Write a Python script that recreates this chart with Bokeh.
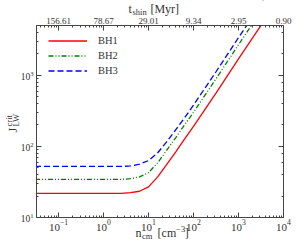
from bokeh.plotting import figure
from bokeh.models import Range1d, LinearAxis, LogAxis, FixedTicker, LogTicker, Label
from bokeh.embed import file_html
from bokeh.resources import INLINE
import math

# ---- data ----
n_cm = [0.03, 0.1, 1.0, 2.5, 4.0, 6.3, 10.0, 16.0, 25.0, 40.0, 63.0, 100.0, 316.0, 1000.0, 3162.0, 6300.0]
J_bh1 = [21.8, 21.8, 21.8, 21.9, 22.4, 23.4, 26.9, 37.2, 55.0, 83.2, 126.0, 191.0, 562.0, 1700.0, 5010.0, 9770.0]
J_bh2 = [34.3, 34.3, 34.3, 34.4, 35.1, 37.2, 42.7, 58.9, 87.1, 132.0, 200.0, 302.0, 891.0, 2690.0, 7940.0, 15500.0]
J_bh3 = [52.2, 52.2, 52.2, 52.2, 53.1, 56.2, 63.1, 81.3, 115.0, 170.0, 251.0, 380.0, 1120.0, 3390.0, 10000.0, 19500.0]
series_names = ["BH1", "BH2", "BH3"]
top_tick_pos = [0.1, 1.0, 10.0, 100.0, 1000.0, 10000.0]
top_tick_labels = ["156.61", "78.67", "29.01", "9.34", "2.95", "0.90"]

# visible axes box (data limits) and full canvas extents
X0, X1 = 0.0324, 10000.0
Y0, Y1 = 10.0, 5000.0
XA, XB = 0.00513, 19450.0
YA, YB = 3.548, 11250.0

FONT = "Liberation Serif"
TXT = "#333333"
AX = "#444444"

p = figure(width=296, height=249, x_axis_type="log", y_axis_type="log",
           x_range=Range1d(XA, XB), y_range=Range1d(YA, YB),
           output_backend="svg", toolbar_location=None,
           min_border_left=0, min_border_right=0, min_border_top=0, min_border_bottom=0)
p.xgrid.visible = False
p.ygrid.visible = False
p.outline_line_color = None
p.background_fill_color = "white"
p.border_fill_color = "white"

styles = [dict(color="#ff0000", line_dash="solid"),
          dict(color="#008000", line_dash="5 2 1 2 1 2"),
          dict(color="#0000ff", line_dash="6 3")]
for J, name, st in zip([J_bh1, J_bh2, J_bh3], series_names, styles):
    p.line(n_cm, J, line_color=st["color"], line_dash=st["line_dash"], line_width=1.3, legend_label=name)

# white masks outside the axes box (curves are clipped at the box edges)
p.quad(left=[XA], right=[XB], bottom=[Y1], top=[YB], fill_color="white", line_color=None)
p.quad(left=[XA], right=[X0], bottom=[YA], top=[YB], fill_color="white", line_color=None)

# axes drawn at the box edges
p.xaxis.fixed_location = Y0
p.xaxis.bounds = (X0, X1)
p.yaxis.fixed_location = X0
p.yaxis.bounds = (Y0, Y1)

minors = [m * 10.0 ** k for k in range(-2, 4) for m in range(2, 10)]
minors = [v for v in minors if X0 <= v <= X1]
top = LinearAxis(ticker=FixedTicker(ticks=top_tick_pos, minor_ticks=minors),
                 major_label_overrides={t: l for t, l in zip(top_tick_pos, top_tick_labels)},
                 fixed_location=Y1, bounds=(X0, X1))
p.add_layout(top, "above")
right = LogAxis(ticker=LogTicker(), fixed_location=X1, bounds=(Y0, Y1))
p.add_layout(right, "right")

for ax in p.axis:
    ax.major_tick_in = 5
    ax.major_tick_out = 0
    ax.minor_tick_in = 2
    ax.minor_tick_out = 0
    ax.axis_line_color = AX
    ax.major_tick_line_color = AX
    ax.minor_tick_line_color = AX
    ax.major_label_text_font = FONT
    ax.major_label_text_color = TXT
    ax.major_label_standoff = 3
    ax.axis_label = None
p.xaxis[0].major_label_text_font_size = "9.5px"
p.yaxis[0].major_label_text_font_size = "9.5px"
top.major_label_text_font_size = "9px"
top.major_label_standoff = 2
right.major_label_text_font_size = "1px"
right.major_label_text_alpha = 0.0
right.major_label_standoff = 0

# ---- composed axis titles ----
def lab(x, y, t, size, angle=0.0):
    p.add_layout(Label(x=x, y=y, text=t, text_font=FONT, text_font_size=size,
                       text_color=TXT, angle=angle, text_align="left", text_baseline="middle"))

# top: t_shin [Myr]
lab(3.58, 8410, "t", "12px")
lab(4.40, 7640, "shin", "8.5px")
lab(11.0, 8410, "[Myr]", "12px")
# bottom: n_cm [cm^-3]
lab(5.13, 5.96, "n", "12px")
lab(7.15, 5.41, "cm", "8.5px")
lab(15.9, 5.96, "[cm", "12px")
lab(41.0, 6.78, "\u22123", "8.5px")
lab(64.0, 5.96, "]", "12px")
# left: J_LW^crit (rotated)
lab(0.00973, 157, "J", "12px", angle=math.pi / 2)
lab(0.01132, 190.6, "LW", "8.5px", angle=math.pi / 2)
lab(0.00793, 190.6, "crit", "8.5px", angle=math.pi / 2)

lg = p.legend[0]
lg.location = (48, 171)
lg.margin = 0
lg.padding = 0
lg.spacing = 0
lg.border_line_color = None
lg.background_fill_alpha = 0
lg.glyph_width = 39
lg.glyph_height = 15
lg.label_height = 15
lg.label_standoff = 11
lg.label_text_font = FONT
lg.label_text_font_size = "10.5px"
lg.label_text_color = TXT

open("out.html", "w").write(file_html(p, INLINE))
